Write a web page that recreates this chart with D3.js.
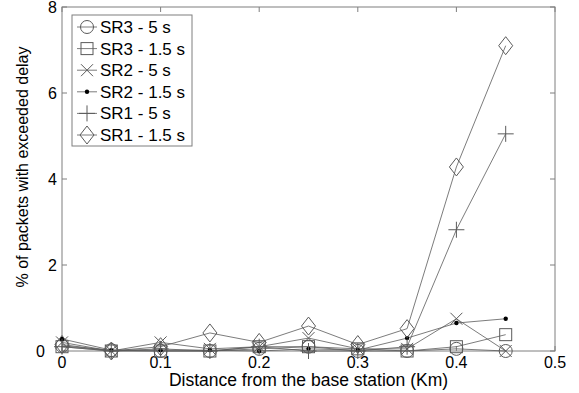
<!DOCTYPE html>
<html>
<head>
<meta charset="utf-8">
<script src="https://cdn.jsdelivr.net/npm/d3@7"></script>
<style>
  body { margin: 0; background: #fff; }
  svg text { font-family: Arial, "Liberation Sans", sans-serif; fill: #000; }
</style>
</head>
<body>
<div id="chart"></div>
<script>
// distances (Km)
const distances = [0, 0.05, 0.1, 0.15, 0.2, 0.25, 0.3, 0.35, 0.4, 0.45];

const seriesNames = ['SR3 - 5 s', 'SR3 - 1.5 s', 'SR2 - 5 s', 'SR2 - 1.5 s', 'SR1 - 5 s', 'SR1 - 1.5 s'];
const seriesMarkers = ['circle', 'square', 'cross', 'dot', 'plus', 'diamond'];

// % of packets with exceeded delay
const sr3_5s   = [0.12, 0.02, 0.0, 0.0, 0.05, 0.1, 0.0, 0.0, 0.05, 0.0];
const sr3_15s  = [0.1, 0.0, 0.0, 0.0, 0.1, 0.1, 0.05, 0.0, 0.1, 0.38];
const sr2_5s   = [0.2, 0.0, 0.2, 0.05, 0.1, 0.3, 0.05, 0.05, 0.75, 0.0];
const sr2_15s  = [0.28, 0.02, 0.02, 0.02, 0.0, 0.05, 0.02, 0.3, 0.65, 0.75];
const sr1_5s   = [0.1, 0.0, 0.05, 0.0, 0.1, 0.0, 0.0, 0.1, 2.82, 5.05];
const sr1_15s  = [0.15, 0.0, 0.1, 0.42, 0.2, 0.58, 0.15, 0.52, 4.28, 7.1];

const seriesValues = [sr3_5s, sr3_15s, sr2_5s, sr2_15s, sr1_5s, sr1_15s];

const xTicks = [0, 0.1, 0.2, 0.3, 0.4, 0.5];
const yTicks = [0, 2, 4, 6, 8];

const width = 579, height = 393;
const margin = { top: 7, right: 24, bottom: 42, left: 62 };
const frameColor = '#7f7f7f';
const lineColor = '#5a5a5a';

const svg = d3.select('#chart').append('svg')
  .attr('width', width)
  .attr('height', height);

const x = d3.scaleLinear().domain([0, 0.5]).range([margin.left, width - margin.right]);
const y = d3.scaleLinear().domain([0, 8]).range([height - margin.bottom, margin.top]);

// frame with inside ticks on all sides
svg.append('rect')
  .attr('x', x(0)).attr('y', y(8))
  .attr('width', x(0.5) - x(0)).attr('height', y(0) - y(8))
  .attr('fill', 'none').attr('stroke', frameColor);

const tickLen = 5;
xTicks.forEach(t => {
  svg.append('line').attr('x1', x(t)).attr('x2', x(t)).attr('y1', y(0)).attr('y2', y(0) - tickLen).attr('stroke', frameColor);
  svg.append('line').attr('x1', x(t)).attr('x2', x(t)).attr('y1', y(8)).attr('y2', y(8) + tickLen).attr('stroke', frameColor);
  svg.append('text')
    .attr('x', x(t)).attr('y', y(0) + 17)
    .attr('text-anchor', 'middle')
    .style('font-size', '16px')
    .text(t);
});
yTicks.forEach(t => {
  svg.append('line').attr('x1', x(0)).attr('x2', x(0) + tickLen).attr('y1', y(t)).attr('y2', y(t)).attr('stroke', frameColor);
  svg.append('line').attr('x1', x(0.5)).attr('x2', x(0.5) - tickLen).attr('y1', y(t)).attr('y2', y(t)).attr('stroke', frameColor);
  svg.append('text')
    .attr('x', t === 0 ? x(0) - 17 : x(0) - 5).attr('y', y(t) + 6)
    .attr('text-anchor', 'end')
    .style('font-size', '16px')
    .text(t);
});

// axis titles
svg.append('text')
  .attr('x', x(0.25)).attr('y', y(0) + 35)
  .attr('text-anchor', 'middle')
  .style('font-size', '17.5px')
  .text('Distance from the base station (Km)');

svg.append('text')
  .attr('transform', `translate(28,${(y(0) + y(8)) / 2 - 12}) rotate(-90)`)
  .attr('text-anchor', 'middle')
  .style('font-size', '16px')
  .text('% of packets with exceeded delay');

function drawMarker(g, type) {
  if (type === 'circle') {
    g.append('circle').attr('r', 6.5).attr('fill', 'none').attr('stroke', lineColor);
  } else if (type === 'square') {
    g.append('rect').attr('x', -6).attr('y', -6).attr('width', 12).attr('height', 12).attr('fill', 'none').attr('stroke', lineColor);
  } else if (type === 'cross') {
    g.append('path').attr('d', 'M-6,-6L6,6M-6,6L6,-6').attr('stroke', lineColor);
  } else if (type === 'dot') {
    g.append('circle').attr('r', 2.2).attr('fill', '#000');
  } else if (type === 'plus') {
    g.append('path').attr('d', 'M-8,0L8,0M0,-8L0,8').attr('stroke', lineColor);
  } else if (type === 'diamond') {
    g.append('path').attr('d', 'M0,-9L7,0L0,9L-7,0Z').attr('fill', 'none').attr('stroke', lineColor);
  }
}

const line = d3.line()
  .x((d, i) => x(distances[i]))
  .y(d => y(d));

seriesValues.forEach((vals, s) => {
  svg.append('path')
    .datum(vals)
    .attr('d', line)
    .attr('fill', 'none')
    .attr('stroke', lineColor)
    .attr('stroke-width', 0.8);

  vals.forEach((v, i) => {
    const g = svg.append('g').attr('transform', `translate(${x(distances[i])},${y(v)})`);
    drawMarker(g, seriesMarkers[s]);
  });
});

// legend
const legendX = 72, legendY = 15, legendRow = 21.6;
svg.append('rect')
  .attr('x', legendX).attr('y', legendY)
  .attr('width', 120).attr('height', 131)
  .attr('fill', '#fff').attr('stroke', frameColor);

seriesNames.forEach((name, i) => {
  const cy = legendY + 12 + i * legendRow;
  svg.append('line')
    .attr('x1', legendX + 5).attr('x2', legendX + 25)
    .attr('y1', cy).attr('y2', cy)
    .attr('stroke', lineColor).attr('stroke-width', 0.8);
  const g = svg.append('g').attr('transform', `translate(${legendX + 15},${cy})`);
  drawMarker(g, seriesMarkers[i]);
  svg.append('text')
    .attr('x', legendX + 28).attr('y', cy + 6)
    .style('font-size', '17px')
    .text(name);
});
</script>
</body>
</html>
